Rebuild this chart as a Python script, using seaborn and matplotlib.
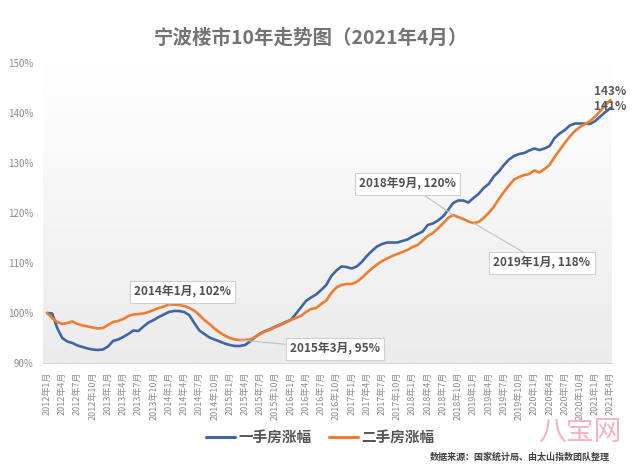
import numpy as np
import pandas as pd
import matplotlib
matplotlib.use("Agg")
import matplotlib.pyplot as plt
import seaborn as sns
from matplotlib.lines import Line2D
from matplotlib.colors import LinearSegmentedColormap

sns.set_theme(style="white")
plt.rcParams['font.family'] = ['Noto Sans CJK SC', 'DejaVu Sans']
plt.rcParams['axes.unicode_minus'] = False

# ---------------- data ----------------
title = "宁波楼市10年走势图（2021年4月）"
series_names = ["一手房涨幅", "二手房涨幅"]
start_year = 2012
n_months = 112  # 2012年1月 .. 2021年4月

new_home = [
    100.0, 99.9, 97.0, 95.0, 94.3, 94.0, 93.5, 93.2, 92.9, 92.7, 92.6, 92.7,   # 2012
    93.3, 94.4, 94.7, 95.2, 95.8, 96.5, 96.4, 97.3, 98.1, 98.6, 99.2, 99.7,    # 2013
    100.2, 100.4, 100.4, 100.2, 99.6, 98.0, 96.5, 95.8, 95.1, 94.7, 94.3, 93.9,  # 2014
    93.6, 93.4, 93.4, 93.6, 94.3, 95.2, 95.9, 96.4, 96.8, 97.3, 97.7, 98.2,    # 2015
    98.6, 99.8, 101.1, 102.4, 103.1, 103.7, 104.6, 105.6, 107.4, 108.5, 109.3, 109.2,  # 2016
    108.9, 109.3, 110.2, 111.4, 112.4, 113.3, 113.8, 114.1, 114.1, 114.1, 114.4, 114.7,  # 2017
    115.3, 115.8, 116.3, 117.6, 117.9, 118.5, 119.3, 120.6, 122.0, 122.5, 122.5, 122.1,  # 2018
    123.0, 123.8, 125.0, 125.8, 127.3, 128.3, 129.6, 130.7, 131.4, 131.8, 132.0, 132.5,  # 2019
    132.9, 132.6, 132.9, 133.4, 135.0, 135.9, 136.6, 137.5, 137.9, 137.9, 137.9, 137.8,  # 2020
    138.4, 139.3, 140.2, 141.0,                                                       # 2021
]
second_hand = [
    100.0, 99.0, 98.2, 97.8, 98.0, 98.3, 97.8, 97.5, 97.3, 97.1, 96.9, 97.0,   # 2012
    97.6, 98.2, 98.4, 98.8, 99.4, 99.7, 99.8, 99.9, 100.2, 100.6, 101.0, 101.3,  # 2013
    101.7, 101.7, 101.6, 101.4, 101.0, 100.5, 99.6, 98.6, 97.8, 96.9, 96.1, 95.5,  # 2014
    95.0, 94.7, 94.6, 94.6, 94.7, 95.2, 95.8, 96.3, 96.7, 97.2, 97.6, 98.1,    # 2015
    98.6, 99.0, 99.4, 100.2, 100.8, 101.0, 101.8, 102.5, 104.0, 105.1, 105.6, 105.8,  # 2016
    105.8, 106.2, 107.0, 108.0, 108.9, 109.7, 110.4, 110.9, 111.4, 111.8, 112.2, 112.6,  # 2017
    113.2, 113.6, 114.5, 115.4, 116.0, 116.9, 117.9, 119.0, 119.6, 119.2, 118.8, 118.3,  # 2018
    118.0, 118.2, 119.0, 120.0, 121.2, 122.8, 124.2, 125.5, 126.7, 127.2, 127.6, 127.8,  # 2019
    128.5, 128.1, 128.8, 129.6, 131.2, 132.6, 134.0, 135.3, 136.4, 137.2, 137.8, 138.4,  # 2020
    139.3, 140.4, 141.6, 142.6,                                                       # 2021
]
annotations = [  # (label, month index of point, series index)
    ("2014年1月, 102%", 24, 1),
    ("2015年3月, 95%", 38, 1),
    ("2018年9月, 120%", 80, 1),
    ("2019年1月, 118%", 84, 1),
]
end_labels = ["143%", "141%"]
yticks = [90, 100, 110, 120, 130, 140, 150]
source_text = "数据来源：国家统计局、由太山指数团队整理"

month_idx = list(range(n_months))
month_labels = [f"{start_year + m // 12}年{m % 12 + 1}月" for m in month_idx]

df = pd.DataFrame({
    "m": month_idx * 2,
    "v": new_home + second_hand,
    "s": [series_names[0]] * n_months + [series_names[1]] * n_months,
})

colors = ["#3f66a3", "#ed7d31"]

# ---------------- figure ----------------
fig = plt.figure(figsize=(6.42, 4.71), dpi=100)
ax = fig.add_axes([43 / 642, (471 - 363) / 471, (612 - 43) / 642, (363 - 63) / 471])

xlim = (-0.8, 111.3)
ylim = (90, 150)

# gradient background
grad = np.linspace(0, 1, 256).reshape(-1, 1)
cmap = LinearSegmentedColormap.from_list("bg", ["#ebebeb", "#ffffff"])
ax.imshow(grad, aspect="auto", cmap=cmap, origin="lower",
          extent=[xlim[0], xlim[1], ylim[0], ylim[1]], zorder=0)

sns.lineplot(data=df, x="m", y="v", hue="s", palette=colors, linewidth=1.9,
             legend=False, ax=ax, zorder=3)

ax.set_xlim(*xlim)
ax.set_ylim(*ylim)
ax.set_xlabel("")
ax.set_ylabel("")
ax.set_yticks(yticks)
ax.set_yticklabels([f"{t}%" for t in yticks], fontsize=7, color="#8c8c8c")
ax.set_xticks(month_idx[::3])
ax.set_xticklabels(month_labels[::3], rotation=90, fontsize=6.5, color="#8c8c8c")
ax.tick_params(axis="y", length=0, pad=7)
ax.tick_params(axis="x", length=3, color="#d0d0d0", pad=3)
for sp in ["top", "right", "left"]:
    ax.spines[sp].set_visible(False)
ax.spines["bottom"].set_color("#d9d9d9")
ax.spines["bottom"].set_linewidth(0.8)

# annotations
series_vals = [new_home, second_hand]
box_pos = [(26.7, 104.2), (56.8, 92.8), (71.0, 125.8), (97.5, 110.0)]
for (lab, m, si), (bx, by) in zip(annotations, box_pos):
    ax.annotate(lab, xy=(m, series_vals[si][m]), xytext=(bx, by),
                ha="center", va="center", fontsize=8.5, color="#505050",
                fontweight="bold", zorder=5,
                bbox=dict(boxstyle="square,pad=0.35", fc="white", ec="#d0d0d0", lw=0.8),
                arrowprops=dict(arrowstyle="-", color="#c0c0c0", lw=0.8,
                                shrinkA=0, shrinkB=0))

# end labels
ax.text(n_months - 1, second_hand[-1] + 0.4, end_labels[0], ha="center", va="bottom",
        fontsize=8.5, color="#595959", fontweight="bold", zorder=6, clip_on=False)
ax.text(n_months - 1, new_home[-1] + 0.3, end_labels[1], ha="center", va="center",
        fontsize=8.5, color="#595959", fontweight="bold", zorder=6, clip_on=False)

# title
fig.text(311 / 642, 1 - 38 / 471, title, ha="center", va="center",
         fontsize=14, fontweight="bold", color="#737373")

# legend
handles = [Line2D([0], [0], color=c, lw=2.2) for c in colors]
leg = fig.legend(handles, series_names, loc="center", bbox_to_anchor=(320 / 642, 1 - 437 / 471),
                 ncol=2, frameon=False, fontsize=10.5, handlelength=2.0,
                 columnspacing=1.2, handletextpad=0.2)
for t in leg.get_texts():
    t.set_color("#555555")
    t.set_fontweight("bold")

# source
fig.text(610 / 642, 1 - 457 / 471, source_text, ha="right", va="center",
         fontsize=6.5, fontweight="bold", color="#404040")

# watermark
fig.text(580 / 642, 1 - 432 / 471, "八宝网", ha="center", va="center",
         fontsize=20, color="#f2a3b3", alpha=0.8)

fig.savefig("out.png", dpi=100)
